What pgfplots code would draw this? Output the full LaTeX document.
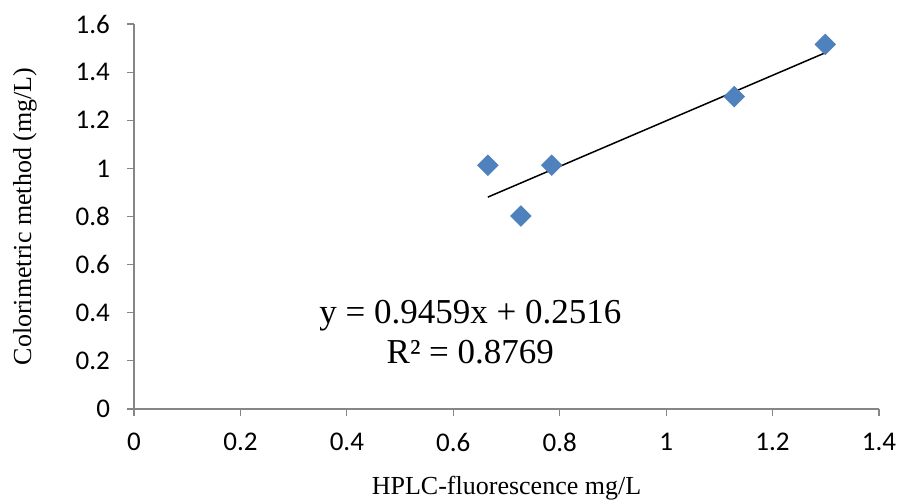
\documentclass[border=0pt]{standalone}
\usepackage{fontspec}
\setmainfont{Liberation Serif}
\newfontfamily\calibri{Carlito}
\usepackage{pgfplots}
\pgfplotsset{compat=1.18}
\definecolor{mblue}{HTML}{4F81BD}
\definecolor{agray}{HTML}{868686}
\begin{document}
\begin{tikzpicture}
\useasboundingbox (0,0) rectangle (448.5pt,251pt);
\begin{axis}[
  at={(67pt,46.5pt)}, anchor=south west,
  width=372.5pt, height=192.5pt, scale only axis,
  xmin=0, xmax=1.4, ymin=0, ymax=1.6,
  axis lines*=left,
  axis line style={agray, line width=0.6pt},
  tick style={agray, line width=0.6pt},
  tick align=outside,
  major tick length=3.5pt,
  xtick={0,0.2,0.4,0.6,0.8,1,1.2,1.4},
  ytick={0,0.2,0.4,0.6,0.8,1,1.2,1.4,1.6},
  /pgf/number format/assume math mode=true,
  /pgf/number format/fixed,
  ticklabel style={font=\calibri\fontsize{13.5}{16}\selectfont, black},
  xticklabel style={yshift=-5pt},
  yticklabel style={xshift=-5pt},
  xlabel={HPLC-fluorescence mg/L},
  ylabel={Colorimetric method (mg/L)},
  label style={font=\fontsize{13}{15}\selectfont},
  xlabel style={at={(axis description cs:0.5,-0.205)}, anchor=center},
  ylabel style={at={(axis description cs:-0.1463,0.5)}, anchor=center},
  clip=false,
]
\addplot[black, line width=0.75pt, no marks] coordinates {(0.665,0.8806) (1.30,1.4813)};
\addplot[only marks, mark=square*, mark size=3.6pt, mark options={rotate=45, fill=mblue, draw=mblue}] coordinates {
(0.665,1.013) (0.727,0.802) (0.785,1.013) (1.128,1.298) (1.299,1.515)};
\node[align=center, font=\fontsize{17.5}{20}\selectfont, inner sep=0pt] at (axis cs:0.632,0.32) {y = 0.9459x + 0.2516\\R² = 0.8769};
\end{axis}
\end{tikzpicture}
\end{document}
